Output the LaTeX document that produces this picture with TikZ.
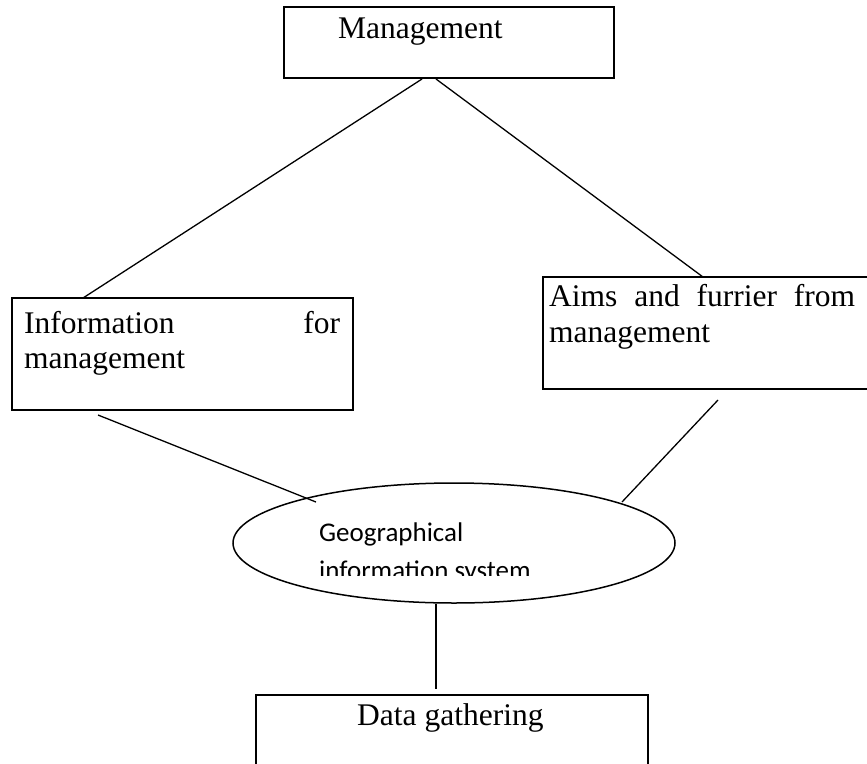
\documentclass[tikz,border=0pt]{standalone}
\usepackage{fontspec}
\setmainfont{Liberation Serif}
\newfontfamily\calibrifont{Carlito}
\usetikzlibrary{shapes.geometric}
\tikzset{
  boxnode/.style={draw, line width=1.8pt, inner sep=0pt, rectangle},
  txt/.style={anchor=base west, inner sep=0pt, font=\fontsize{31.5}{36}\selectfont},
  etxt/.style={anchor=base west, inner sep=0pt, font=\calibrifont\fontsize{27}{32}\selectfont},
  conn/.style={line width=1.3pt},
}
\begin{document}
\begin{tikzpicture}[x=1pt,y=-1pt]
\useasboundingbox (0,0) rectangle (867,763);
\clip (0,0) rectangle (867,763);
% boxes
\node[boxnode, minimum width=330pt, minimum height=71pt] (mgmt) at (449,42.5) {};
\node[boxnode, minimum width=341pt, minimum height=112pt] (info) at (182.5,354) {};
\node[boxnode, minimum width=357pt, minimum height=112pt] (aims) at (721.5,333) {};
\node[boxnode, minimum width=392pt, minimum height=105pt] (data) at (452,747.5) {};
\node[draw, ellipse, line width=1.5pt, minimum width=442pt, minimum height=120pt, inner sep=0pt] (gis) at (454,543) {};
% texts
\node[txt] (tmgmt) at (338,38) {Management};
\node[txt] (tinfo1) at (24,333) {\hbox to 316pt{Information\hfill for}};
\node[txt] (tinfo2) at (24,368) {management};
\node[txt] (taims1) at (549,306) {\hbox to 306pt{Aims\hfill and\hfill furrier\hfill from}};
\node[txt] (taims2) at (549,342) {management};
\node[txt] (tdata) at (357,725) {Data gathering};
\begin{scope}
\clip (300,500) rectangle (640,575);
\node[etxt] (tgis1) at (319,541) {Geographical};
\node[etxt] (tgis2) at (319,579) {information system};
\end{scope}
% connector ends
\coordinate (m1) at (422,79);
\coordinate (m2) at (436,79);
\coordinate (i1) at (83,298);
\coordinate (a1) at (703,277);
\coordinate (i2) at (98,415);
\coordinate (g1) at (316,502);
\coordinate (a2) at (718,400);
\coordinate (g2) at (622,502);
\coordinate (d1) at (436,689);
\draw[conn] (m1) -- (i1);
\draw[conn] (m2) -- (a1);
\draw[conn] (i2) -- (g1);
\draw[conn] (a2) -- (g2);
\draw[conn] (gis.south) ++(-18,0) coordinate (g3) -- (d1);
\end{tikzpicture}
\end{document}
